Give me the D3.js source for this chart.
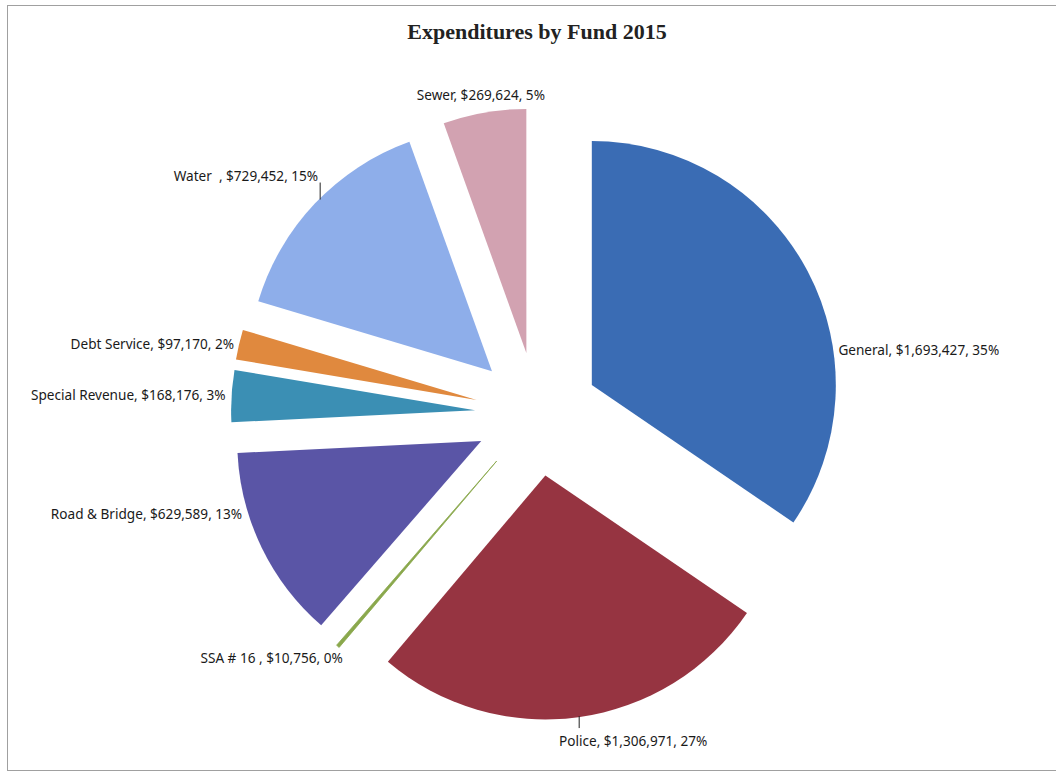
<!DOCTYPE html>
<html>
<head>
<meta charset="UTF-8">
<script src="https://cdn.jsdelivr.net/npm/d3@7"></script>
<title>Expenditures by Fund 2015</title>
<style>
    body { margin: 0; background: #fff; }
    .lbl { font-family: 'Noto Sans', 'Open Sans', sans-serif; font-size: 13.6px; fill: #1a1a1a; white-space: pre; }
    .title { font-family: 'Liberation Serif', 'Times New Roman', serif; font-weight: bold; font-size: 22px; fill: #222; }
</style>
</head>
<body>
<div id="chart"></div>
<script>
// data
const funds = ["General", "Police", "SSA # 16 ", "Road & Bridge", "Special Revenue", "Debt Service", "Water  ", "Sewer"];
const amounts = [1693427, 1306971, 10756, 629589, 168176, 97170, 729452, 269624];
const percents = ["35%", "27%", "0%", "13%", "3%", "2%", "15%", "5%"];
const colors = ["#3a6cb4", "#963441", "#8aa84c", "#5a55a6", "#3b8fb4", "#e0893e", "#8eaeea", "#d2a2b1"];

// where each label sits (angle in degrees clockwise from top, distance from slice tip)
const labelLayout = {
    "General":         { angle: 82,  dist: 249, anchor: "start" },
    "Police":          { angle: 172, dist: 243, leader: 12, anchor: "middle", dx: 54, dy: 13 },
    "SSA # 16 ":       { angle: 218, dist: 250, anchor: "end" },
    "Road & Bridge":   { angle: 253, dist: 250, anchor: "end" },
    "Special Revenue": { angle: 273.5, dist: 250, anchor: "end" },
    "Debt Service":    { angle: 283, dist: 249, anchor: "end" },
    "Water  ":         { angle: 315, dist: 243, leader: -17, anchor: "end", dx: -2, dy: -6 },
    "Sewer":           { angle: 350, dist: 262, anchor: "middle" }
};

const W = 1056, H = 775;
const cx = 537, cy = 414, R = 244, explode = 62;

const svg = d3.select("#chart").append("svg")
    .attr("width", W)
    .attr("height", H);

svg.append("rect")
    .attr("x", 7.5).attr("y", 5.5)
    .attr("width", W + 10).attr("height", 765)
    .attr("fill", "#fff")
    .attr("stroke", "#a0a0a0");

svg.append("text")
    .attr("class", "title")
    .attr("x", 537).attr("y", 39)
    .attr("text-anchor", "middle")
    .text("Expenditures by Fund 2015");

const rows = funds.map((f, i) => ({ name: f, value: amounts[i], pct: percents[i], color: colors[i] }));

const pie = d3.pie().sort(null).value(d => d.value);
const arc = d3.arc().innerRadius(0).outerRadius(R);
const fmt = d3.format(",");

const slices = svg.selectAll("g.slice")
    .data(pie(rows))
    .enter()
    .append("g")
    .attr("class", "slice")
    .attr("transform", d => {
        const mid = (d.startAngle + d.endAngle) / 2;
        d.tipX = cx + explode * Math.sin(mid);
        d.tipY = cy - explode * Math.cos(mid);
        return `translate(${d.tipX},${d.tipY})`;
    });

slices.append("path")
    .attr("d", arc)
    .attr("fill", d => d.data.color)
    .attr("stroke", d => d.data.color)
    .attr("stroke-width", d => d.value < 20000 ? 0.8 : 0);

slices.each(function (d) {
    const g = d3.select(this);
    const lay = labelLayout[d.data.name];
    const a = lay.angle * Math.PI / 180;
    let x = lay.dist * Math.sin(a);
    let y = -lay.dist * Math.cos(a);
    if (lay.leader) {
        g.append("line")
            .attr("x1", x).attr("y1", y)
            .attr("x2", x).attr("y2", y + lay.leader)
            .attr("stroke", "#222")
            .attr("stroke-width", 1);
        y += lay.leader;
    }
    g.append("text")
        .attr("class", "lbl")
        .attr("x", x + (lay.dx || 0))
        .attr("y", y + (lay.dy || 0))
        .attr("dy", "0.35em")
        .attr("text-anchor", lay.anchor)
        .text(`${d.data.name}, $${fmt(d.data.value)}, ${d.data.pct}`);
});
</script>
</body>
</html>
